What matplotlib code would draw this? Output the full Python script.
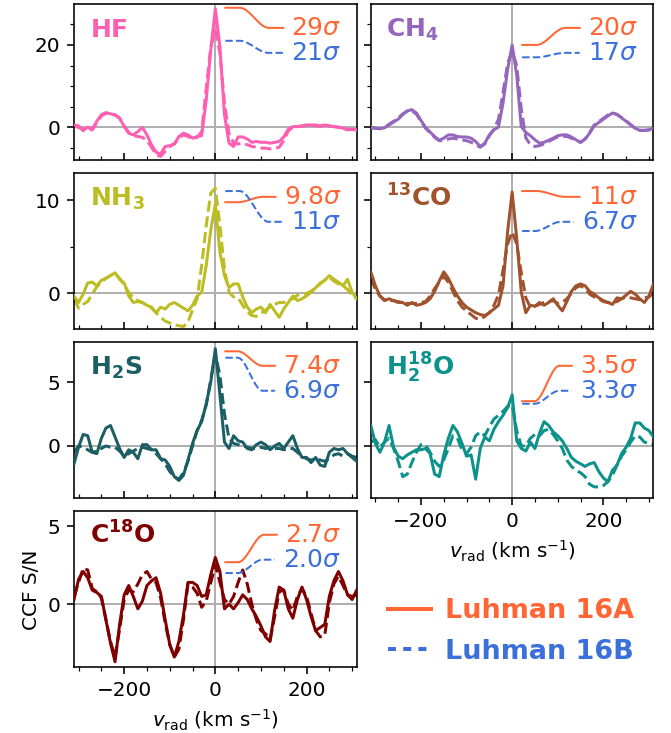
import numpy as np
import matplotlib.pyplot as plt
from matplotlib.lines import Line2D
from matplotlib.ticker import MultipleLocator

# radial velocity grid (km/s)
v_rad = np.arange(-310, 311, 10)

# CCF S/N, Luhman 16A (solid) and 16B (dashed)
hf_a = [0.6, 0.4, -0.8, 0.1, -0.4, 1.5, 3.1, 3.6, 3.3,
        3.1, 2.3, 0.2, -1.4, -1.8, -1.0, 0.0, -1.8, -4.2,
        -6.0, -6.4, -4.6, -4.4, -4.0, -2.2, -1.4, -1.8, -2.6,
        -2.2, -2.0, 6.7, 18.8, 28.8, 19.6, 3.1, -3.8, -4.6,
        -2.3, -2.3, -2.8, -3.6, -3.4, -3.6, -3.6, -3.8, -3.6,
        -3.4, -2.3, -0.4, 0.2, 0.2, 0.4, 0.6, 0.6, 0.6,
        0.4, 0.6, 0.4, 0.2, 0.1, -0.2, -0.6, -0.4, -0.6]
hf_b = [0.4, 0.0, -0.4, -0.2, -0.6, 1.2, 2.8, 3.4, 3.3,
        3.0, 2.2, 0.4, -1.2, -2.0, -2.2, -2.4, -3.2, -4.8,
        -6.6, -7.0, -5.8, -4.6, -4.0, -2.6, -1.8, -2.2, -2.8,
        -2.4, -1.0, 9.5, 19.5, 23.5, 18.0, 6.0, -1.5, -3.8,
        -4.0, -3.8, -4.2, -4.6, -4.8, -5.0, -5.0, -5.2, -5.1,
        -4.8, -3.2, -0.8, 0.0, 0.2, 0.3, 0.5, 0.5, 0.4,
        0.3, 0.4, 0.3, 0.2, 0.0, -0.2, -0.4, -0.5, -0.6]

ch4_a = [0.0, -0.2, -0.3, -0.1, 0.6, 1.3, 2.0, 3.1, 4.0,
         4.3, 3.5, 1.7, 0.0, -1.1, -2.2, -3.1, -2.6, -1.8,
         -1.8, -2.2, -2.3, -2.3, -2.6, -3.4, -4.6, -3.8, -1.8,
         -0.6, 0.1, 5.9, 14.0, 20.0, 12.7, 0.2, -1.2, -2.0,
         -3.0, -3.8, -3.6, -3.1, -2.6, -2.0, -1.8, -1.8, -2.3,
         -3.0, -3.6, -2.8, -1.4, 0.4, 1.2, 2.0, 2.8, 3.5,
         3.1, 2.3, 1.5, 0.6, -0.2, -0.7, -0.7, -0.6, -0.2]
ch4_b = [0.0, -0.2, -0.3, 0.0, 0.8, 1.5, 2.3, 3.3, 4.0,
         4.0, 3.2, 1.5, -0.2, -1.3, -2.4, -3.2, -3.2, -2.8,
         -2.6, -2.8, -3.0, -3.2, -3.6, -4.2, -4.8, -4.0, -2.0,
         -0.4, 2.0, 8.5, 15.5, 18.5, 15.0, 4.5, -2.5, -4.2,
         -4.6, -4.4, -4.0, -3.4, -2.8, -2.3, -2.1, -2.2, -2.6,
         -3.2, -3.6, -2.8, -1.2, 0.6, 1.4, 2.2, 3.0, 3.5,
         3.2, 2.4, 1.6, 0.7, -0.2, -0.7, -0.7, -0.6, -0.3]

nh3_a = [-0.3, -1.0, -0.1, 1.1, 1.2, 0.8, 1.4, 1.6, 1.9,
         2.2, 1.5, 1.1, -0.3, -1.0, -0.9, -1.0, -1.3, -1.5,
         -2.1, -1.5, -1.7, -1.2, -1.0, -1.3, -1.6, -1.9, -1.3,
         -0.3, 0.1, 3.0, 6.8, 9.6, 4.4, 1.9, 0.6, 1.0,
         1.0, -0.4, -1.5, -2.1, -1.7, -1.5, -2.1, -1.2, -1.9,
         -2.6, -1.7, -1.0, -0.3, -0.8, -0.6, -0.3, 0.1, 0.6,
         1.0, 1.4, 1.9, 1.5, 1.2, 0.8, 1.5, 0.1, -0.6]
nh3_b = [-0.6, -1.6, -1.2, -0.9, -0.1, 0.7, 1.2, 1.6, 1.9,
         2.1, 1.6, 0.9, 0.1, -0.5, -0.8, -1.0, -1.3, -1.6,
         -2.1, -2.6, -3.0, -3.2, -3.4, -3.5, -3.6, -3.1, -1.8,
         -0.6, 3.0, 7.3, 10.8, 11.3, 7.3, 2.6, 0.1, -0.4,
         -0.5, -1.3, -2.0, -2.4, -2.5, -2.2, -1.8, -1.5, -1.2,
         -1.0, -1.0, -0.8, -0.6, -0.2, -0.2, 0.0, 0.2, 0.6,
         1.1, 1.4, 1.7, 1.3, 1.0, 0.8, 0.4, -0.2, -0.6]

co13_a = [2.3, 0.8, -0.3, -0.8, -0.6, -0.8, -1.0, -1.0, -1.3,
          -1.0, -1.3, -1.2, -1.0, -0.6, 0.2, 1.3, 2.3, 1.6,
          0.6, -0.3, -1.0, -1.5, -1.8, -2.1, -2.3, -2.4, -2.1,
          -1.7, -1.3, 0.8, 6.6, 10.9, 5.9, 0.1, -2.1, -1.3,
          -1.4, -1.0, -1.3, -1.0, -0.6, -1.3, -1.9, -0.9, 0.2,
          0.8, 1.0, 0.8, 0.2, -0.1, -0.5, -0.8, -1.0, -1.2,
          -0.5, -0.6, -0.2, 0.2, -0.1, -0.6, -1.0, -0.3, 1.0]
co13_b = [1.6, 0.4, -0.3, -0.7, -0.8, -0.8, -0.9, -1.0, -1.1,
          -1.1, -1.1, -1.0, -0.9, -0.3, 0.5, 1.2, 1.8, 1.2,
          0.2, -0.8, -1.5, -1.9, -2.3, -2.7, -2.8, -2.5, -2.1,
          -1.3, -0.2, 2.5, 5.3, 6.6, 5.3, 2.2, -0.5, -1.5,
          -1.4, -1.2, -1.0, -0.9, -0.8, -1.1, -1.0, -0.6, 0.0,
          0.6, 0.8, 0.5, -0.1, -0.4, -0.6, -0.9, -1.0, -1.0,
          -0.9, -0.6, -0.4, -0.5, -0.6, -0.7, -0.5, -0.4, 0.0]

h2s_a = [-1.4, -0.1, 0.9, 0.8, -0.5, -0.6, 0.6, 1.4, 1.6,
         0.7, -0.2, -0.9, -0.3, -0.5, -1.0, 0.1, 0.1, -0.3,
         -0.3, -1.0, -1.1, -1.6, -2.4, -2.7, -2.3, -1.1, 0.2,
         1.2, 1.9, 3.3, 5.0, 7.6, 4.0, 0.3, -0.2, 0.8,
         0.4, 0.3, -0.2, -0.3, 0.1, 0.3, 0.1, -0.3, 0.0,
         0.2, -0.2, 0.3, 0.8, -0.2, -0.9, -0.9, -1.3, -0.9,
         -1.5, -1.6, -0.5, -0.2, -0.3, -0.2, -0.6, -0.9, -1.2]
h2s_b = [-0.5, 0.0, -0.1, -0.3, -0.5, -0.4, -0.2, 0.0, -0.1,
         -0.1, -0.4, -0.8, -0.6, -0.4, -0.2, -0.1, -0.2, -0.3,
         -0.6, -1.0, -1.4, -2.0, -2.4, -2.6, -2.1, -1.2, 0.0,
         1.2, 2.0, 3.2, 5.2, 7.2, 5.5, 2.5, 0.6, 0.2,
         0.1, 0.0, -0.1, -0.2, -0.2, -0.1, -0.2, -0.1, -0.2,
         -0.2, -0.3, -0.2, -0.2, -0.5, -0.8, -1.0, -1.1, -1.0,
         -1.1, -1.2, -1.0, -0.7, -0.6, -0.8, -0.6, -0.8, -0.9]

h218o_a = [1.6, 0.2, -0.5, 0.3, 1.6, -0.1, -0.8, -1.0, -0.7,
           -0.5, -0.3, -0.3, -0.2, -0.6, -2.2, -2.4, -0.7, 0.6,
           1.6, 1.1, 0.2, -0.8, -0.7, -2.6, -0.2, 0.7, 0.4,
           1.3, 1.9, 2.4, 3.0, 4.0, 0.4, -0.2, -0.4, 0.3,
           -0.2, 1.0, 1.9, 1.6, 1.1, 0.8, 0.4, -0.2, -0.9,
           -1.2, -1.4, -1.6, -1.4, -1.3, -2.0, -2.5, -2.8, -1.9,
           -1.5, -0.6, -0.1, 0.6, 1.8, 1.8, 1.4, 1.2, 0.7]
h218o_b = [0.3, 0.5, -0.1, 0.3, 0.6, -0.2, -1.2, -2.4, -2.2,
           -1.3, -0.5, 0.1, 0.1, -0.5, -1.2, -1.6, -1.1, -0.2,
           0.8, 0.6, -0.3, -0.6, -0.1, 0.8, 1.1, 0.8, 1.5,
           2.1, 2.4, 2.7, 3.1, 3.2, 1.2, 0.0, 0.0, 0.6,
           0.9, 0.8, 1.2, 1.3, 0.9, 0.4, -0.2, -1.1, -1.6,
           -1.9, -2.1, -2.4, -3.0, -3.2, -3.2, -3.1, -2.8, -2.3,
           -1.5, -0.8, -0.3, 0.3, 0.8, 0.7, 0.3, 0.2, 0.1]

c18o_a = [0.3, 1.6, 2.1, 1.7, 0.9, 0.75, 0.5, -1.0, -2.5,
          -3.7, -1.3, 0.6, 1.2, 0.5, -0.3, 0.2, 1.2, 1.5,
          1.7, 0.7, -1.0, -2.6, -3.4, -2.4, -0.7, 1.4, 1.4,
          1.2, 0.5, 0.6, 1.9, 3.0, 2.1, -0.3, 0.0, -0.3,
          0.1, 0.6, 0.3, -0.3, -0.8, -1.4, -2.1, -2.4, -0.4,
          1.1, 0.9, -0.3, -0.9, 0.3, 1.1, 0.3, -0.8, -1.7,
          -1.5, -1.3, 0.5, 1.5, 2.1, 1.5, 0.6, 0.3, 0.9]
c18o_b = [0.5, 1.4, 2.3, 2.2, 1.0, 0.8, 0.4, -1.0, -2.4,
          -3.4, -1.6, 0.3, 0.9, 0.8, 1.3, 1.9, 2.1, 1.6,
          1.4, 0.4, -1.2, -2.6, -3.4, -2.9, -1.0, 1.3, 1.1,
          0.7, -0.2, 0.2, 1.4, 2.5, 1.4, 0.3, 0.0, 0.5,
          1.4, 2.2, 1.3, 0.0, -1.0, -1.7, -1.9, -2.3, -0.8,
          0.8, 0.9, 0.0, -0.4, 0.5, 1.0, 0.5, -0.6, -1.7,
          -2.1, -2.0, 0.1, 1.3, 1.8, 1.2, 0.6, 0.5, 0.6]

# detection significances (sigma) for A and B
names = ['HF', 'CH_4', 'NH_3', '^{13}CO', 'H_2S', 'H_2^{18}O', 'C^{18}O']
sig_a = ['29', '20', '9.8', '11', '7.4', '3.5', '2.7']
sig_b = ['21', '17', '11', '6.7', '6.9', '3.3', '2.0']
colors = ['#ff5fb1', '#9467bd', '#bcbd22', '#a0522d', '#1b5e63', '#0c918b', '#800000']
series_a = [hf_a, ch4_a, nh3_a, co13_a, h2s_a, h218o_a, c18o_a]
series_b = [hf_b, ch4_b, nh3_b, co13_b, h2s_b, h218o_b, c18o_b]

col_a = '#ff6633'
col_b = '#3b6fd9'

row_ylim = [(-8.0, 29.8), (-3.9, 12.9), (-4.1, 8.1), (-4.06, 5.97)]
row_major = [20, 10, 5, 5]

fig, axes = plt.subplots(4, 2, figsize=(671 / 144, 733 / 144), dpi=144,
                         sharex=True, sharey='row',
                         gridspec_kw=dict(left=0.1103, right=0.9739, top=0.9939,
                                          bottom=0.0896, hspace=0.083, wspace=0.05))
axes[3, 1].set_visible(False)
panel_axes = [axes[0, 0], axes[0, 1], axes[1, 0], axes[1, 1],
              axes[2, 0], axes[2, 1], axes[3, 0]]

sig_texts = []
for i, ax in enumerate(panel_axes):
    row = i // 2
    ax.axvline(0, color='#b0b0b0', lw=1, zorder=1)
    ax.axhline(0, color='#b0b0b0', lw=1, zorder=1)
    ax.plot(v_rad, series_a[i], color=colors[i], lw=1.5, zorder=3)
    ax.plot(v_rad, series_b[i], color=colors[i], lw=1.5, ls='--', zorder=2)
    ax.set_xlim(-310, 310)
    ax.set_ylim(*row_ylim[row])
    ax.xaxis.set_major_locator(MultipleLocator(200))
    ax.xaxis.set_minor_locator(MultipleLocator(50))
    ax.yaxis.set_major_locator(MultipleLocator(row_major[row]))
    ax.yaxis.set_minor_locator(MultipleLocator(5))
    ax.text(0.055, 0.79, r'$\mathbf{' + names[i] + '}$', transform=ax.transAxes,
            color=colors[i], fontsize=12.5, va='baseline', ha='left')
    ta = ax.text(0.945, 0.805, sig_a[i] + r'$\sigma$', transform=ax.transAxes,
                 color=col_a, fontsize=12.5, ha='right', va='baseline')
    tb = ax.text(0.945, 0.645, sig_b[i] + r'$\sigma$', transform=ax.transAxes,
                 color=col_b, fontsize=12.5, ha='right', va='baseline')
    sig_texts.append((ax, float(sig_a[i]), ta, float(sig_b[i]), tb))

for ax in panel_axes:
    ax.tick_params(axis='x', which='both', direction='in')
for ax in (axes[3, 0], axes[2, 1]):
    ax.tick_params(axis='x', which='both', direction='out', labelbottom=True)
    ax.set_xlabel(r'$v_{\rm rad}$ (km s$^{-1}$)', labelpad=3.5)
axes[3, 0].set_ylabel('CCF S/N', labelpad=3)

# sigmoid connectors from the significance level to the labels
fig.canvas.draw()
x_start = 22
for ax, ya, ta, yb, tb in sig_texts:
    inv = ax.transData.inverted()
    for y0, txt, col, ls in ((ya, ta, col_a, '-'), (yb, tb, col_b, '--')):
        bb = txt.get_window_extent()
        x1, y1 = inv.transform((bb.x0 - 8, 0.5 * (bb.y0 + bb.y1)))
        xs = np.linspace(x_start, x1, 80)
        t = np.clip(((xs - x_start) / (x1 - x_start) - 0.25) / 0.5, 0, 1)
        ys = y0 + (y1 - y0) * t * t * (3 - 2 * t)
        ax.plot(xs, ys, color=col, lw=1, ls=ls, zorder=4)

handles = [Line2D([], [], color=col_a, lw=2),
           Line2D([], [], color=col_b, lw=2, dashes=(2, 1.8))]
fig.legend(handles, ['Luhman 16A', 'Luhman 16B'], loc='upper left',
           bbox_to_anchor=(388 / 671, 1 - 598 / 733), frameon=False,
           borderpad=0, borderaxespad=0, handlelength=1.6, handletextpad=0.5,
           labelspacing=0.55, prop={'weight': 'bold', 'size': 13.5},
           labelcolor='linecolor')

fig.savefig('out.png', dpi=144)
